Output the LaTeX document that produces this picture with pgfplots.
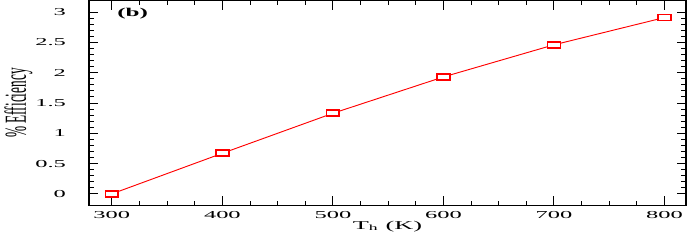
\documentclass[border=0pt]{standalone}
\usepackage{fontspec}
\setmainfont{Liberation Serif}
\usepackage{pgfplots}
\pgfplotsset{compat=1.18}
\begin{document}
\begin{tikzpicture}
\begin{axis}[
  scale only axis,
  width=449pt, height=154pt,
  xmin=279.3, xmax=819.5, ymin=-0.19, ymax=3.19,
  xtick={300,400,...,800},
  ytick={0,0.5,...,3},
  yticklabels={0,0.5,1,1.5,2,2.5,3},
  minor x tick num=3,
  minor y tick num=4,
  tick align=inside,
  major tick length=7pt,
  minor tick length=3.5pt,
  axis line style={line width=0.9pt},
  every tick/.style={black, line width=0.7pt},
  xtick pos=both, ytick pos=both,
  /pgf/number format/assume math mode=true,
  ticklabel style={font=\fontsize{8}{10}\selectfont, xscale=2.3},
  yticklabel style={xshift=-4pt},
  xticklabel style={yshift=-1pt},
  xlabel={T\textsubscript{h} (K)},
  ylabel={\scalebox{1}[2.3]{\% Efficiency}},
  label style={font=\fontsize{9}{11}\selectfont},
  xlabel style={xscale=2.2, yshift=5pt},
  every axis y label/.style={at={([xshift=-53pt]axis description cs:0,0.5)}, anchor=center, rotate=90},
]
\addplot[red, line width=0.7pt, mark=square*, mark size=2.2pt,
  mark options={xscale=2.2, line width=1.3pt, fill=white}]
  coordinates {(300,0) (400,0.67) (500,1.33) (600,1.93) (700,2.46) (800,2.91)};
\node[anchor=north west, inner sep=0pt, font=\fontsize{9}{11}\selectfont\bfseries] at (axis description cs:0.047,0.965) {\scalebox{2.1}[1]{(b)}};
\end{axis}
\end{tikzpicture}
\end{document}
